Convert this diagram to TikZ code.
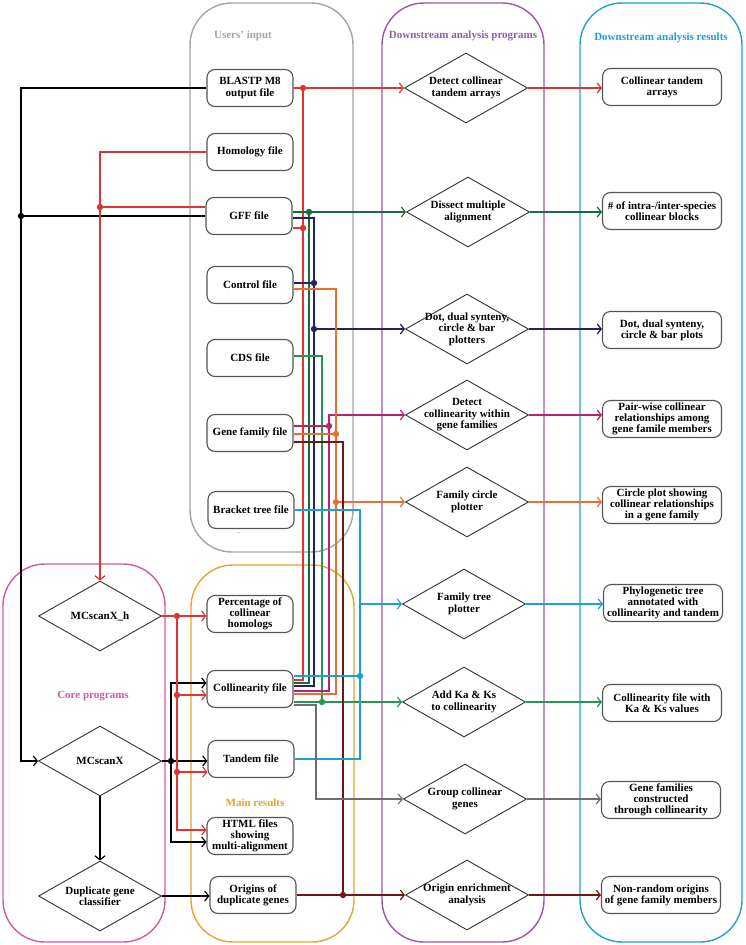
\documentclass[tikz,border=0pt]{standalone}
\usepackage{fontspec}
\setmainfont{Liberation Serif}
\usetikzlibrary{arrows.meta,shapes.geometric}
\definecolor{cRed}{RGB}{222,52,52}
\definecolor{cDGreen}{RGB}{22,110,62}
\definecolor{cNavy}{RGB}{35,35,95}
\definecolor{cGreen}{RGB}{40,150,80}
\definecolor{cMag}{RGB}{185,35,110}
\definecolor{cOrange}{RGB}{232,112,52}
\definecolor{cMaroon}{RGB}{112,22,22}
\definecolor{cCyan}{RGB}{30,160,210}
\definecolor{cGrayL}{RGB}{110,110,110}
\definecolor{cPurple}{RGB}{150,90,170}
\definecolor{cPink}{RGB}{210,90,160}
\definecolor{cGold}{RGB}{228,165,45}
\definecolor{cLGray}{RGB}{165,165,165}
\definecolor{cBox}{RGB}{85,85,85}
\tikzset{
  box/.style={draw=cBox, line width=1.1pt, rounded corners=8pt, fill=white, minimum width=86pt, minimum height=37pt, inner sep=1pt, align=center, font=\bfseries\fontsize{11}{11.2}\selectfont},
  rbox/.style={box, minimum width=119pt},
  dia/.style={draw=black!80, line width=0.9pt, diamond, minimum width=123pt, minimum height=70pt, inner sep=0pt, fill=white},
  dtext/.style={align=center, inner sep=0pt, font=\bfseries\fontsize{11}{11.5}\selectfont},
  ttl/.style={font=\bfseries\fontsize{11}{12}\selectfont},
  cont/.style={line width=1.4pt, rounded corners=42pt},
  conn/.style={line width=1.25pt},
  arr/.style={conn, -{Straight Barb[length=4pt,width=10pt,line width=1.2pt]}},
}
\newcommand{\jdot}[2]{\fill[#1] #2 circle (3.2pt);}
\begin{document}
\begin{tikzpicture}[x=1pt,y=-1pt]
\useasboundingbox (0,0) rectangle (745,945);
% containers
\draw[cont, cLGray] (190,3) rectangle (353,552);
\draw[cont, cPurple] (382,3) rectangle (544,942);
\draw[cont, cCyan] (580,3) rectangle (742,942);
\draw[cont, cPink] (3,564) rectangle (165,942);
\draw[cont, cGold] (191,565) rectangle (354,942);
% titles
\node[ttl, text=cLGray] (t1) at (243,36) {Users' input};
\node[ttl, text=cPurple] (t2) at (463,36) {Downstream analysis programs};
\node[ttl, text=cCyan] (t3) at (661,38) {Downstream analysis results};
\node[ttl, text=cPink] (t4) at (93,696) {Core programs};
\node[ttl, text=cGold] (t5) at (255,803) {Main results};
\node[text=cDGreen, inner sep=0pt, font=\fontsize{8}{8}\selectfont] (t6) at (239,533) {.};
% input files
\node[box] (bl) at (250,88) {BLASTP M8\\output file};
\node[box] (hom) at (250,152) {Homology file};
\node[box] (gff) at (249,216) {GFF file};
\node[box] (ctl) at (250,285) {Control file};
\node[box] (cds) at (250,358) {CDS file};
\node[box] (gf) at (250,433) {Gene family file};
\node[box] (bt) at (251,510) {Bracket tree file};
% main results
\node[box] (pct) at (250,614) {Percentage of\\collinear\\homologs};
\node[box] (col) at (250,689) {Collinearity file};
\node[box] (tan) at (251,759) {Tandem file};
\node[box] (html) at (250,836) {HTML files\\showing\\multi-alignment};
\node[box] (ori) at (253,895) {Origins of\\duplicate genes};
% core programs
\node[dia] (mh) at (100,616) {};
\node[dtext] (mht) at (mh) {MCscanX\_h};
\node[dia] (mx) at (100,761) {};
\node[dtext] (mxt) at (mx) {MCscanX};
\node[dia] (dgc) at (100,896) {};
\node[dtext] (dgct) at (dgc) {Duplicate gene\\classifier};
% downstream programs
\node[dia] (p1) at (466,88) {};
\node[dtext] (p1t) at (p1) {Detect collinear\\tandem arrays};
\node[dia] (p2) at (468,212) {};
\node[dtext] (p2t) at (p2) {Dissect multiple\\alignment};
\node[dia] (p3) at (467,329) {};
\node[dtext] (p3t) at (p3) {Dot, dual synteny,\\circle \& bar\\plotters};
\node[dia] (p4) at (467,415) {};
\node[dtext] (p4t) at (p4) {Detect\\collinearity within\\gene families};
\node[dia] (p5) at (467,502) {};
\node[dtext] (p5t) at (p5) {Family circle\\plotter};
\node[dia] (p6) at (464,604) {};
\node[dtext] (p6t) at (p6) {Family tree\\plotter};
\node[dia] (p7) at (464,702) {};
\node[dtext] (p7t) at (p7) {Add Ka \& Ks\\to collinearity};
\node[dia] (p8) at (465,799) {};
\node[dtext] (p8t) at (p8) {Group collinear\\genes};
\node[dia] (p9) at (467,895) {};
\node[dtext] (p9t) at (p9) {Origin enrichment\\analysis};
% results
\node[rbox] (r1) at (662,87) {Collinear tandem\\arrays};
\node[rbox] (r2) at (662,211) {\# of intra-/inter-species\\collinear blocks};
\node[rbox] (r3) at (662,330) {Dot, dual synteny,\\circle \& bar plots};
\node[rbox] (r4) at (662,419) {Pair-wise collinear\\relationships among\\gene famile members};
\node[rbox] (r5) at (662,505) {Circle plot showing\\collinear relationships\\in a gene family};
\node[rbox] (r6) at (663,603) {Phylogenetic tree\\annotated with\\collinearity and tandem};
\node[rbox] (r7) at (662,703) {Collinearity file with\\Ka \& Ks values};
\node[rbox] (r8) at (661,800) {Gene families\\constructed\\through collinearity};
\node[rbox] (r9) at (661,895) {Non-random origins\\of gene family members};
% ---------- black
\draw[arr, black] (bl.west) -| (21,761) -- (mx.west);
\draw[conn, black] (gff.west) -- (21,216);
\jdot{black}{(21,216)}
\draw[arr, black] (mx.east) -- (mx.east -| tan.west);
\draw[arr, black] (171,761) |- (col.west |- 0,683);
\draw[arr, black] (171,761) |- (html.west |- 0,842);
\jdot{black}{(171,761)}
\draw[arr, black] (mx.south) -- (dgc.north);
\draw[arr, black] (dgc.east) -- (dgc.east -| ori.west);
% ---------- red
\draw[arr, cRed] (hom.west) -| (mh.north);
\draw[conn, cRed] (gff.west |- 0,207) -- (100,207);
\jdot{cRed}{(100,207)}
\draw[arr, cRed] (mh.east) -- (mh.east -| pct.west);
\draw[arr, cRed] (177,616) |- (html.west |- 0,830);
\draw[arr, cRed] (177,695) -- (col.west |- 0,695);
\draw[arr, cRed] (177,772) -- (tan.west |- 0,772);
\jdot{cRed}{(177,616)}
\jdot{cRed}{(177,695)}
\jdot{cRed}{(177,772)}
\draw[arr, cRed] (bl.east) -- (bl.east -| p1.west);
\draw[conn, cRed] (303,88) |- (col.east |- 0,680);
\draw[conn, cRed] (gff.east |- 0,228) -- (303,228);
\jdot{cRed}{(303,88)}
\jdot{cRed}{(303,228)}
\draw[arr, cRed] (p1.east) -- (p1.east -| r1.west);
% ---------- dark green
\draw[arr, cDGreen] (gff.east |- 0,212) -- (p2.west);
\draw[conn, cDGreen] (309,212) |- (col.east |- 0,683);
\jdot{cDGreen}{(309,212)}
\draw[arr, cDGreen] (p2.east) -- (p2.east -| r2.west);
% ---------- navy
\draw[conn, cNavy] (gff.east |- 0,218) -| (314,686) -- (col.east |- 0,686);
\draw[conn, cNavy] (ctl.east |- 0,283) -- (314,283);
\draw[arr, cNavy] (314,329) -- (p3.west);
\jdot{cNavy}{(314,283)}
\jdot{cNavy}{(314,329)}
\draw[arr, cNavy] (p3.east) -- (p3.east -| r3.west);
% ---------- CDS green
\draw[conn, cGreen] (cds.east |- 0,356) -| (322,702);
\draw[arr, cGreen] (col.east |- 0,702) -- (p7.west);
\jdot{cGreen}{(322,702)}
\draw[arr, cGreen] (p7.east) -- (p7.east -| r7.west);
% ---------- magenta
\draw[conn, cMag] (gf.east |- 0,426) -- (329,426);
\draw[arr, cMag] (329,426) |- (p4.west);
\draw[conn, cMag] (329,426) |- (col.east |- 0,691);
\jdot{cMag}{(329,426)}
\draw[arr, cMag] (p4.east) -- (p4.east -| r4.west);
% ---------- orange
\draw[conn, cOrange] (ctl.east |- 0,289) -| (336,694) -- (col.east |- 0,694);
\draw[conn, cOrange] (gf.east |- 0,434) -- (336,434);
\draw[arr, cOrange] (336,502) -- (p5.west);
\jdot{cOrange}{(336,434)}
\jdot{cOrange}{(336,502)}
\draw[arr, cOrange] (p5.east) -- (p5.east -| r5.west);
% ---------- maroon
\draw[conn, cMaroon] (gf.east |- 0,442) -| (343,895);
\draw[arr, cMaroon] (ori.east) -- (p9.west);
\jdot{cMaroon}{(343,895)}
\draw[arr, cMaroon] (p9.east) -- (p9.east -| r9.west);
% ---------- cyan
\draw[conn, cCyan] (bt.east) -| (360,759) -- (tan.east);
\draw[conn, cCyan] (col.east |- 0,676) -- (360,676);
\jdot{cCyan}{(360,676)}
\draw[arr, cCyan] (360,604) -- (p6.west);
\draw[arr, cCyan] (p6.east) -- (p6.east -| r6.west);
% ---------- gray
\draw[arr, cGrayL] (col.east |- 0,705) -| (316,799) -- (p8.west);
\draw[arr, cGrayL] (p8.east) -- (p8.east -| r8.west);
\end{tikzpicture}
\end{document}
